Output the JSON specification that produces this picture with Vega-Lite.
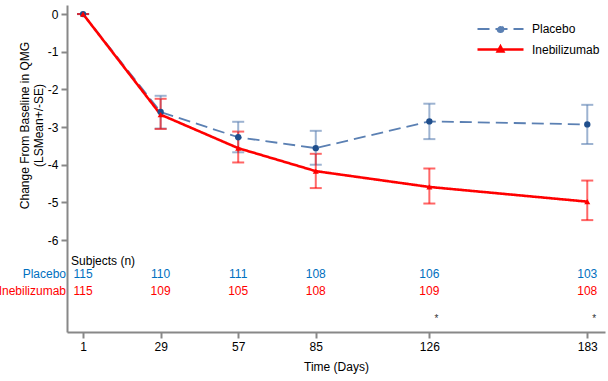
{
  "$schema": "https://vega.github.io/schema/vega-lite/v6.json",
  "width": 538,
  "height": 327,
  "autosize": "none",
  "padding": {"left": 67, "top": 5, "right": 3, "bottom": 49},
  "config": {
    "font": "Liberation Sans",
    "view": {"stroke": null},
    "axis": {"grid": false, "labelFontSize": 12, "labelColor": "#000", "titleFontSize": 12, "titleFontWeight": "normal", "titleColor": "#000", "domainColor": "#888", "domainWidth": 2, "tickColor": "#888", "tickWidth": 2, "tickSize": 6}
  },
  "datasets": {
    "stats": [
      {"group": "Placebo", "day": 1, "mean": 0, "low": 0, "high": 0},
      {"group": "Placebo", "day": 29, "mean": -2.6, "low": -3.04, "high": -2.17},
      {"group": "Placebo", "day": 57, "mean": -3.27, "low": -3.67, "high": -2.86},
      {"group": "Placebo", "day": 85, "mean": -3.56, "low": -4.0, "high": -3.1},
      {"group": "Placebo", "day": 126, "mean": -2.85, "low": -3.32, "high": -2.38},
      {"group": "Placebo", "day": 183, "mean": -2.93, "low": -3.45, "high": -2.41},
      {"group": "Inebilizumab", "day": 1, "mean": 0, "low": 0, "high": 0},
      {"group": "Inebilizumab", "day": 29, "mean": -2.67, "low": -3.05, "high": -2.25},
      {"group": "Inebilizumab", "day": 57, "mean": -3.56, "low": -3.94, "high": -3.12},
      {"group": "Inebilizumab", "day": 85, "mean": -4.17, "low": -4.62, "high": -3.71},
      {"group": "Inebilizumab", "day": 126, "mean": -4.59, "low": -5.03, "high": -4.1},
      {"group": "Inebilizumab", "day": 183, "mean": -4.98, "low": -5.47, "high": -4.42}
    ],
    "counts": [
      {"group": "Placebo", "day": 1, "n": 115},
      {"group": "Placebo", "day": 29, "n": 110},
      {"group": "Placebo", "day": 57, "n": 111},
      {"group": "Placebo", "day": 85, "n": 108},
      {"group": "Placebo", "day": 126, "n": 106},
      {"group": "Placebo", "day": 183, "n": 103},
      {"group": "Inebilizumab", "day": 1, "n": 115},
      {"group": "Inebilizumab", "day": 29, "n": 109},
      {"group": "Inebilizumab", "day": 57, "n": 105},
      {"group": "Inebilizumab", "day": 85, "n": 108},
      {"group": "Inebilizumab", "day": 126, "n": 109},
      {"group": "Inebilizumab", "day": 183, "n": 108}
    ],
    "sig": [{"day": 126, "label": "*"}, {"day": 183, "label": "*"}],
    "rowlabels": [{"group": "Placebo"}, {"group": "Inebilizumab"}],
    "header": [{"label": "Subjects (n)"}]
  },
  "layer": [
    {
      "data": {"name": "stats"},
      "mark": {"type": "errorbar", "ticks": {"size": 12}, "thickness": 2, "opacity": 0.6},
      "encoding": {
        "x": {"field": "day", "type": "quantitative", "title": "Time (Days)"},
        "y": {"field": "low", "type": "quantitative", "title": ["Change From Baseline in QMG", "(LSMean+/-SE)"]},
        "y2": {"field": "high"},
        "color": {"field": "group", "type": "nominal"}
      }
    },
    {
      "data": {"name": "stats"},
      "mark": {"type": "line"},
      "encoding": {
        "x": {
          "field": "day", "type": "quantitative",
          "scale": {"domain": [-4.8, 189.4], "nice": false, "zero": false},
          "axis": {"values": [1, 29, 57, 85, 126, 183], "title": "Time (Days)", "labelPadding": 3, "titlePadding": 9}
        },
        "y": {
          "field": "mean", "type": "quantitative",
          "scale": {"domain": [-8.44, 0.24], "nice": false, "zero": false},
          "axis": {"values": [0, -1, -2, -3, -4, -5, -6], "title": ["Change From Baseline in QMG", "(LSMean+/-SE)"], "labelExpr": "replace(datum.label, '\u2212', '-')", "titleY": 120, "labelPadding": 3, "titlePadding": 2}
        },
        "color": {
          "field": "group", "type": "nominal",
          "scale": {"domain": ["Placebo", "Inebilizumab"], "range": ["#5b80b3", "#ff0000"]},
          "legend": {
            "title": null, "orient": "none", "legendX": 388, "legendY": 18,
            "symbolSize": 100, "symbolStrokeWidth": 2, "labelFontSize": 12, "labelColor": "#000",
            "rowPadding": 5, "labelOffset": 25, "symbolOffset": 39,
            "encode": {
              "symbols": {
                "update": {
                  "size": {"value": 100},
                  "shape": {"signal": "datum.value === 'Placebo' ? 'M-4.6,0H4.6M-0.6,0a0.6,0.6 0 1,0 1.2,0a0.6,0.6 0 1,0 -1.2,0' : 'M-4.6,0H4.6M-0.55,0.4L0,-0.6L0.55,0.4Z'"},
                  "fill": {"signal": "datum.value === 'Placebo' ? '#1f4e8c' : '#ff0000'"},
                  "strokeDash": {"signal": "datum.value === 'Placebo' ? [22,5,8,5] : [1,0]"}
                }
              }
            }
          }
        },
        "strokeDash": {
          "field": "group", "type": "nominal",
          "scale": {"domain": ["Placebo", "Inebilizumab"], "range": [[12, 6], [1, 0]]},
          "legend": null
        },
        "strokeWidth": {
          "field": "group", "type": "ordinal",
          "scale": {"domain": ["Placebo", "Inebilizumab"], "range": [1.8, 2.6]},
          "legend": null
        }
      }
    },
    {
      "data": {"name": "stats"},
      "transform": [{"filter": "datum.group === 'Placebo'"}],
      "mark": {"type": "point", "filled": true, "opacity": 1, "size": 40, "shape": "circle", "color": "#1f4e8c"},
      "encoding": {
        "x": {"field": "day", "type": "quantitative"},
        "y": {"field": "mean", "type": "quantitative"}
      }
    },
    {
      "data": {"name": "stats"},
      "transform": [{"filter": "datum.group === 'Inebilizumab'"}],
      "mark": {"type": "point", "filled": true, "opacity": 1, "size": 36, "shape": "triangle-up", "color": "#ff0000"},
      "encoding": {
        "x": {"field": "day", "type": "quantitative"},
        "y": {"field": "mean", "type": "quantitative"}
      }
    },
    {
      "data": {"name": "header"},
      "mark": {"type": "text", "align": "left", "baseline": "middle", "fontSize": 12, "color": "#000", "dx": -12},
      "encoding": {
        "x": {"datum": 1, "type": "quantitative"},
        "y": {"datum": -6.56, "type": "quantitative"},
        "text": {"field": "label"}
      }
    },
    {
      "data": {"name": "rowlabels"},
      "transform": [{"filter": "datum.group === 'Placebo'"}],
      "mark": {"type": "text", "align": "right", "baseline": "middle", "fontSize": 12, "color": "#0070c0", "dx": -1},
      "encoding": {
        "x": {"datum": -4.8, "type": "quantitative"},
        "y": {"datum": -6.91, "type": "quantitative"},
        "text": {"field": "group"}
      }
    },
    {
      "data": {"name": "rowlabels"},
      "transform": [{"filter": "datum.group === 'Inebilizumab'"}],
      "mark": {"type": "text", "align": "right", "baseline": "middle", "fontSize": 12, "color": "#ff0000", "dx": -1},
      "encoding": {
        "x": {"datum": -4.8, "type": "quantitative"},
        "y": {"datum": -7.36, "type": "quantitative"},
        "text": {"field": "group"}
      }
    },
    {
      "data": {"name": "counts"},
      "transform": [{"filter": "datum.group === 'Placebo'"}],
      "mark": {"type": "text", "align": "center", "baseline": "middle", "fontSize": 12, "color": "#0070c0"},
      "encoding": {
        "x": {"field": "day", "type": "quantitative"},
        "y": {"datum": -6.91, "type": "quantitative"},
        "text": {"field": "n"}
      }
    },
    {
      "data": {"name": "counts"},
      "transform": [{"filter": "datum.group === 'Inebilizumab'"}],
      "mark": {"type": "text", "align": "center", "baseline": "middle", "fontSize": 12, "color": "#ff0000"},
      "encoding": {
        "x": {"field": "day", "type": "quantitative"},
        "y": {"datum": -7.36, "type": "quantitative"},
        "text": {"field": "n"}
      }
    },
    {
      "data": {"name": "sig"},
      "mark": {"type": "text", "align": "center", "baseline": "middle", "fontSize": 10, "color": "#333", "dx": 7},
      "encoding": {
        "x": {"field": "day", "type": "quantitative"},
        "y": {"datum": -8.1, "type": "quantitative"},
        "text": {"field": "label"}
      }
    }
  ]
}
